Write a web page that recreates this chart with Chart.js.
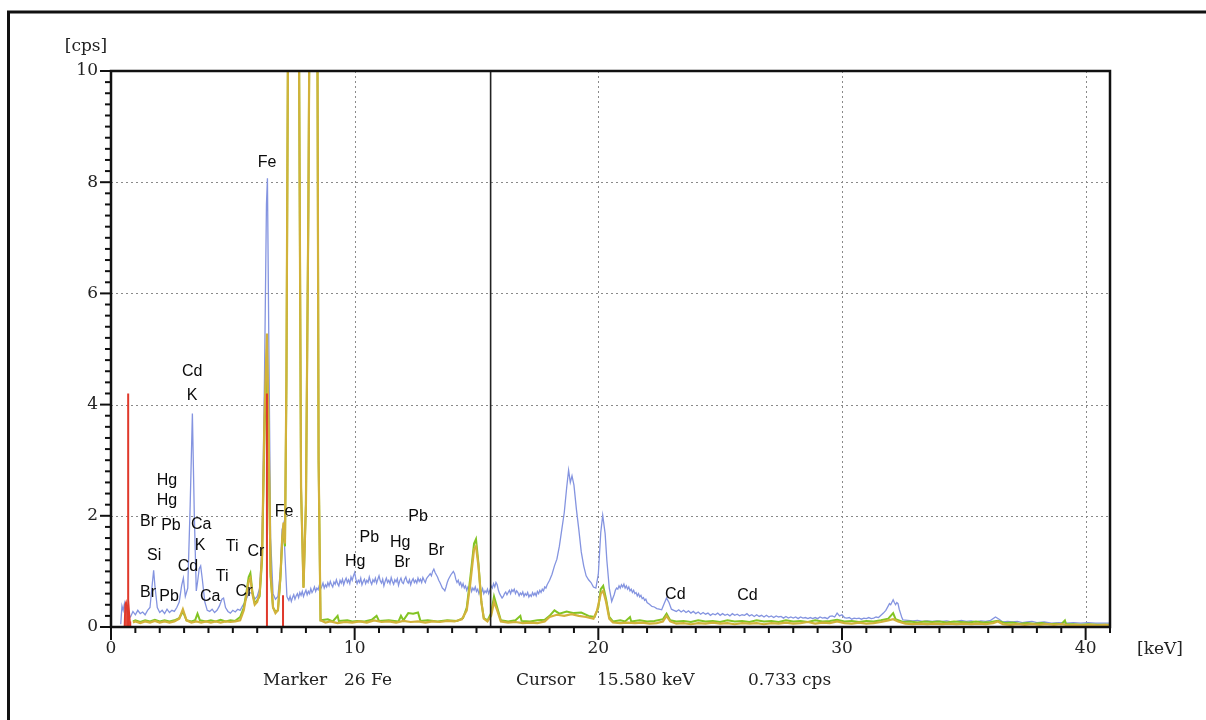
<!DOCTYPE html>
<html>
<head>
<meta charset="utf-8">
<script src="https://cdn.jsdelivr.net/npm/chart.js@4.4.1/dist/chart.umd.min.js"></script>
<style>
html,body{margin:0;padding:0;background:#fff;}
#wrap{width:1206px;height:720px;}
</style>
</head>
<body>
<div id="wrap"><canvas id="spec" width="1206" height="720"></canvas></div>
<script>
// axis ticks
var xTickValues=[0,10,20,30,40];
var yTickValues=[0,2,4,6,8,10];

// spectra, [keV, cps]
var blueSpectrum=[[0.40,0.05],[0.45,0.38],[0.5,0.30],[0.55,0.42],[0.6,0.25],[0.65,0.35],[0.7,0.22],[0.8,0.18],[0.9,0.28],[1.0,0.22],[1.1,0.30],[1.2,0.24],[1.3,0.27],[1.4,0.22],[1.5,0.30],[1.6,0.35],[1.7,0.80],[1.75,1.02],[1.8,0.75],[1.9,0.35],[2.0,0.26],[2.1,0.30],[2.2,0.24],[2.3,0.32],[2.4,0.26],[2.5,0.30],[2.6,0.28],[2.7,0.35],[2.8,0.45],[2.9,0.75],[2.97,0.88],[3.05,0.55],[3.15,0.7],[3.25,2.2],[3.34,3.84],[3.42,2.0],[3.5,0.65],[3.55,0.8],[3.62,1.05],[3.68,1.1],[3.75,0.85],[3.85,0.45],[3.95,0.3],[4.05,0.28],[4.15,0.32],[4.25,0.26],[4.35,0.3],[4.45,0.38],[4.55,0.5],[4.62,0.52],[4.7,0.35],[4.8,0.28],[4.9,0.25],[5.0,0.3],[5.1,0.27],[5.2,0.32],[5.3,0.3],[5.4,0.38],[5.5,0.45],[5.6,0.55],[5.7,0.62],[5.8,0.6],[5.9,0.5],[6.0,0.55],[6.1,0.7],[6.2,1.5],[6.3,4.5],[6.38,7.6],[6.42,8.07],[6.48,5.0],[6.55,1.6],[6.65,0.6],[6.75,0.5],[6.85,0.55],[6.95,1.0],[7.02,1.75],[7.08,1.85],[7.15,1.2],[7.22,0.55],
[7.25,0.52],[7.3,0.48],[7.35,0.55],[7.4,0.46],[7.45,0.53],[7.5,0.58],[7.55,0.5],[7.6,0.56],[7.65,0.6],[7.7,0.53],[7.75,0.62],[7.8,0.57],[7.85,0.64],[7.9,0.55],[7.95,0.61],[8.0,0.66],[8.05,0.58],[8.1,0.64],[8.15,0.6],[8.2,0.69],[8.25,0.62],[8.3,0.66],[8.35,0.72],[8.4,0.64],[8.45,0.7],[8.5,0.67],[8.55,0.75],[8.6,0.68],[8.65,0.73],[8.7,0.79],[8.75,0.7],[8.8,0.76],[8.85,0.72],[8.9,0.8],[8.95,0.74],[9.0,0.82],[9.05,0.76],[9.1,0.72],[9.15,0.81],[9.2,0.77],[9.25,0.85],[9.3,0.78],[9.35,0.74],[9.4,0.84],[9.45,0.79],[9.5,0.86],[9.55,0.76],[9.6,0.83],[9.65,0.88],[9.7,0.8],[9.75,0.85],[9.8,0.78],[9.85,0.9],[9.9,0.84],[9.95,0.92],[10.0,0.98],[10.05,0.86],[10.1,0.78],[10.15,0.84],[10.2,0.8],[10.25,0.88],[10.3,0.76],[10.35,0.82],[10.4,0.86],[10.45,0.78],[10.5,0.84],[10.55,0.8],[10.6,0.9],[10.65,0.82],[10.7,0.77],[10.75,0.85],[10.8,0.81],[10.85,0.88],[10.9,0.79],[10.95,0.86],[11.0,0.92],[11.05,0.83],[11.1,0.79],[11.15,0.86],[11.2,0.74],[11.25,0.82],[11.3,0.88],[11.35,0.8],[11.4,0.84],[11.45,0.78],[11.5,0.89],[11.55,0.82],[11.6,0.77],[11.65,0.85],[11.7,0.81],[11.75,0.87],[11.8,0.75],[11.85,0.83],[11.9,0.88],[11.95,0.8],[12.0,0.78],[12.05,0.86],[12.1,0.9],[12.15,0.82],[12.2,0.79],[12.25,0.85],[12.3,0.76],[12.35,0.83],[12.4,0.87],[12.45,0.8],[12.5,0.84],[12.55,0.79],[12.6,0.88],[12.65,0.82],[12.7,0.86],[12.75,0.8],[12.8,0.89],[12.85,0.84],[12.9,0.8],[12.95,0.87],[13.0,0.9],[13.05,0.93],[13.1,0.96],[13.15,0.92],[13.2,1.0],[13.25,1.04],[13.3,0.98],[13.35,0.94],[13.4,0.9],[13.45,0.84],[13.5,0.8],[13.55,0.75],[13.6,0.7],[13.65,0.68],[13.7,0.65],[13.75,0.72],[13.8,0.8],[13.85,0.86],[13.9,0.9],[13.95,0.94],[14.0,0.97],[14.05,1.0],[14.1,0.96],[14.15,0.86],[14.2,0.8],[14.25,0.84],[14.3,0.76],[14.35,0.8],[14.4,0.72],[14.45,0.78],[14.5,0.7],[14.55,0.74],[14.6,0.66],[14.65,0.72],[14.7,0.68],[14.75,0.74],[14.8,0.64],[14.85,0.7],[14.9,0.66],[14.95,0.72],[15.0,0.64],[15.05,0.68],[15.1,0.6],[15.15,0.66],[15.2,0.62],[15.25,0.69],[15.3,0.6],[15.35,0.65],[15.4,0.62],[15.45,0.68],[15.5,0.6],[15.55,0.66],[15.6,0.74],[15.65,0.7],[15.7,0.78],[15.75,0.72],[15.8,0.8],[15.85,0.76],[15.9,0.66],[15.95,0.6],[16.0,0.56],[16.05,0.52],[16.1,0.55],[16.15,0.6],[16.2,0.63],[16.25,0.58],[16.3,0.62],[16.35,0.66],[16.4,0.6],[16.45,0.67],[16.5,0.64],[16.55,0.68],[16.6,0.6],[16.65,0.65],[16.7,0.62],[16.75,0.56],[16.8,0.61],[16.85,0.58],[16.9,0.63],[16.95,0.55],[17.0,0.6],[17.05,0.57],[17.1,0.62],[17.15,0.54],[17.2,0.58],[17.25,0.55],[17.3,0.62],[17.35,0.57],[17.4,0.61],[17.45,0.56],[17.5,0.64],[17.55,0.6],[17.6,0.66],[17.65,0.62],[17.7,0.68],[17.75,0.65],[17.8,0.72],[17.85,0.7],[17.9,0.76],[17.95,0.8],
[18.0,0.84],[18.1,0.95],[18.2,1.1],[18.3,1.22],[18.4,1.45],[18.5,1.75],[18.6,2.05],[18.7,2.5],[18.78,2.82],[18.85,2.6],[18.92,2.72],[19.0,2.55],[19.1,2.12],[19.2,1.75],[19.3,1.35],[19.4,1.1],[19.5,0.92],[19.6,0.85],[19.7,0.8],[19.8,0.72],[19.9,0.7],[20.0,0.95],[20.1,1.7],[20.18,2.01],[20.28,1.68],[20.35,1.2],[20.45,0.7],
[20.55,0.46],[20.6,0.52],[20.65,0.58],[20.7,0.66],[20.75,0.7],[20.8,0.68],[20.85,0.74],[20.9,0.7],[20.95,0.76],[21.0,0.72],[21.05,0.77],[21.1,0.7],[21.15,0.74],[21.2,0.68],[21.25,0.72],[21.3,0.65],[21.35,0.68],[21.4,0.62],[21.45,0.66],[21.5,0.6],[21.55,0.62],[21.6,0.56],[21.65,0.6],[21.7,0.54],[21.75,0.57],[21.8,0.51],[21.85,0.53],[21.9,0.48],[21.95,0.5],[22.0,0.44],[22.1,0.41],[22.2,0.37],[22.3,0.36],[22.4,0.33],[22.5,0.32],[22.6,0.31],[22.7,0.42],[22.8,0.52],[22.9,0.44],[23.0,0.32],[23.1,0.3],[23.2,0.28],[23.3,0.31],[23.4,0.27],[23.5,0.3],[23.6,0.26],[23.7,0.29],[23.8,0.25],[23.9,0.28],[24.0,0.24],[24.1,0.27],[24.2,0.23],[24.3,0.26],[24.4,0.23],[24.5,0.25],[24.6,0.21],[24.7,0.24],[24.8,0.22],[24.9,0.25],[25.0,0.21],[25.1,0.24],[25.2,0.21],[25.3,0.23],[25.4,0.2],[25.5,0.24],[25.6,0.21],[25.7,0.23],[25.8,0.2],[25.9,0.22],[26.0,0.21],[26.1,0.24],[26.2,0.2],[26.3,0.22],[26.4,0.19],[26.5,0.22],[26.6,0.19],[26.7,0.21],[26.8,0.18],[26.9,0.21],[27.0,0.18],[27.1,0.2],[27.2,0.17],[27.3,0.2],[27.4,0.18],[27.5,0.19],[27.6,0.16],[27.7,0.19],[27.8,0.16],[27.9,0.18],[28.0,0.16],[28.1,0.18],[28.2,0.15],[28.3,0.18],[28.4,0.16],[28.5,0.17],[28.6,0.15],[28.7,0.17],[28.8,0.15],[28.9,0.17],[29.0,0.15],[29.1,0.18],[29.2,0.16],[29.3,0.17],[29.4,0.15],[29.5,0.19],[29.6,0.2],[29.7,0.18],[29.8,0.25],[29.9,0.2],[30.0,0.22],[30.1,0.17],[30.2,0.16],[30.3,0.17],[30.4,0.14],[30.5,0.16],[30.6,0.15],[30.7,0.16],[30.8,0.14],[30.9,0.16],[31.0,0.15],[31.1,0.17],[31.2,0.15],[31.3,0.16],[31.4,0.18],[31.5,0.17],[31.6,0.21],[31.7,0.25],[31.8,0.3],[31.9,0.38],[31.95,0.42],[32.0,0.4],[32.1,0.49],[32.15,0.44],[32.2,0.4],[32.25,0.44],[32.3,0.42],[32.35,0.32],[32.4,0.25],[32.45,0.18],[32.5,0.13],
[32.7,0.12],[32.9,0.11],[33.1,0.12],[33.3,0.1],[33.5,0.11],[33.7,0.1],[33.9,0.11],[34.1,0.1],[34.3,0.11],[34.5,0.09],[34.7,0.1],[34.9,0.12],[35.1,0.1],[35.3,0.11],[35.5,0.09],[35.7,0.11],[35.9,0.1],[36.1,0.12],[36.3,0.18],[36.45,0.14],[36.6,0.09],[36.8,0.1],[37.0,0.09],[37.2,0.1],[37.4,0.08],[37.6,0.09],[37.8,0.1],[38.0,0.08],[38.3,0.09],[38.6,0.07],[38.9,0.08],[39.2,0.07],[39.5,0.08],[39.8,0.07],[40.1,0.08],[40.4,0.07],[40.7,0.07],[41.0,0.07]];

var yellowSpectrum=[[0.9,0.08],[1.0,0.1],[1.2,0.07],[1.4,0.1],[1.6,0.08],[1.8,0.11],[2.0,0.08],[2.2,0.1],[2.4,0.08],[2.6,0.1],[2.8,0.15],[2.95,0.32],[3.1,0.12],[3.3,0.08],[3.5,0.1],[3.7,0.08],[3.9,0.1],[4.1,0.08],[4.3,0.1],[4.5,0.08],[4.7,0.1],[4.9,0.09],[5.1,0.1],[5.3,0.12],[5.45,0.3],[5.55,0.55],[5.65,0.82],[5.72,0.88],[5.8,0.6],[5.9,0.4],[6.0,0.45],[6.1,0.6],[6.2,1.3],[6.3,3.8],[6.4,5.28],[6.47,3.5],[6.55,1.0],[6.65,0.35],[6.75,0.25],[6.85,0.3],[6.95,0.9],[7.03,1.6],[7.08,1.88],[7.14,1.5],[7.2,4.5],[7.3,14],[7.5,60],[7.7,12],[7.8,2.5],[7.9,0.7],[8.0,2.2],[8.1,7.5],[8.16,12],[8.3,70],[8.45,14],[8.52,3],[8.6,0.12],[8.8,0.08],[9.0,0.1],[9.3,0.07],[9.6,0.09],[9.9,0.08],[10.2,0.1],[10.5,0.08],[10.8,0.12],[11.1,0.09],[11.4,0.1],[11.7,0.08],[12.0,0.11],[12.3,0.09],[12.6,0.1],[12.9,0.08],[13.2,0.1],[13.5,0.09],[13.8,0.11],[14.1,0.1],[14.4,0.14],[14.6,0.3],[14.75,0.8],[14.9,1.4],[14.98,1.45],[15.08,1.1],[15.2,0.45],[15.3,0.15],[15.45,0.1],[15.6,0.2],[15.72,0.45],[15.85,0.3],[16.0,0.1],[16.3,0.08],[16.6,0.09],[16.9,0.07],[17.2,0.08],[17.5,0.07],[17.8,0.1],[18.0,0.18],[18.3,0.22],[18.6,0.2],[18.9,0.23],[19.2,0.2],[19.5,0.18],[19.8,0.15],[19.95,0.3],[20.1,0.6],[20.2,0.65],[20.32,0.45],[20.45,0.15],[20.6,0.08],[20.9,0.07],[21.2,0.08],[21.5,0.07],[21.8,0.08],[22.1,0.06],[22.4,0.07],[22.65,0.1],[22.8,0.2],[22.95,0.1],[23.2,0.06],[23.5,0.07],[23.8,0.05],[24.1,0.07],[24.4,0.06],[24.7,0.08],[25.0,0.06],[25.3,0.07],[25.6,0.05],[25.9,0.07],[26.2,0.06],[26.5,0.07],[26.8,0.05],[27.1,0.07],[27.4,0.06],[27.7,0.08],[28.0,0.06],[28.3,0.07],[28.6,0.09],[28.9,0.06],[29.2,0.08],[29.5,0.07],[29.8,0.1],[30.1,0.07],[30.4,0.06],[30.7,0.08],[31.0,0.06],[31.3,0.07],[31.6,0.09],[31.9,0.12],[32.1,0.14],[32.3,0.1],[32.6,0.06],[32.9,0.05],[33.2,0.06],[33.5,0.05],[33.8,0.06],[34.1,0.05],[34.4,0.06],[34.7,0.05],[35.0,0.06],[35.3,0.05],[35.6,0.06],[35.9,0.05],[36.2,0.07],[36.4,0.1],[36.6,0.05],[36.9,0.04],[37.2,0.05],[37.5,0.04],[37.8,0.05],[38.1,0.04],[38.4,0.05],[38.7,0.04],[39.0,0.05],[39.3,0.03],[39.6,0.04],[39.9,0.03],[40.2,0.04],[40.5,0.03],[40.8,0.04],[41.0,0.03]];

var greenSpectrum=[[0.9,0.1],[1.0,0.12],[1.2,0.09],[1.4,0.12],[1.6,0.1],[1.8,0.13],[2.0,0.1],[2.2,0.12],[2.4,0.1],[2.6,0.12],[2.8,0.16],[2.95,0.28],[3.1,0.12],[3.3,0.1],[3.45,0.12],[3.55,0.24],[3.65,0.12],[3.9,0.1],[4.1,0.12],[4.3,0.1],[4.5,0.13],[4.7,0.1],[4.9,0.12],[5.1,0.11],[5.3,0.18],[5.45,0.35],[5.55,0.6],[5.65,0.9],[5.72,0.97],[5.8,0.65],[5.9,0.42],[6.0,0.48],[6.1,0.55],[6.2,1.2],[6.3,3.5],[6.4,5.0],[6.47,3.3],[6.55,0.9],[6.65,0.35],[6.75,0.28],[6.85,0.3],[6.95,0.85],[7.03,1.55],[7.08,1.8],[7.14,1.45],[7.2,4.4],[7.3,14],[7.5,58],[7.7,12],[7.8,2.5],[7.9,0.72],[8.0,2.2],[8.1,7.5],[8.16,12],[8.3,68],[8.45,14],[8.52,3],[8.6,0.12],[8.9,0.14],[9.1,0.1],[9.3,0.2],[9.35,0.11],[9.7,0.12],[9.9,0.1],[10.1,0.11],[10.4,0.1],[10.7,0.13],[10.9,0.2],[11.0,0.11],[11.4,0.12],[11.8,0.1],[11.9,0.2],[12.0,0.12],[12.2,0.25],[12.4,0.24],[12.6,0.26],[12.7,0.11],[13.0,0.12],[13.4,0.1],[13.8,0.12],[14.2,0.11],[14.45,0.16],[14.6,0.35],[14.75,0.9],[14.9,1.5],[14.98,1.58],[15.08,1.15],[15.2,0.45],[15.3,0.16],[15.45,0.12],[15.6,0.25],[15.72,0.55],[15.85,0.35],[16.0,0.12],[16.3,0.1],[16.6,0.12],[16.8,0.2],[16.85,0.11],[17.2,0.1],[17.5,0.12],[17.8,0.13],[18.0,0.2],[18.2,0.3],[18.4,0.24],[18.7,0.28],[19.0,0.25],[19.3,0.26],[19.6,0.2],[19.85,0.18],[20.0,0.35],[20.1,0.68],[20.2,0.74],[20.32,0.5],[20.45,0.18],[20.6,0.1],[20.9,0.12],[21.1,0.1],[21.3,0.18],[21.35,0.1],[21.7,0.12],[22.0,0.1],[22.3,0.11],[22.65,0.14],[22.8,0.24],[22.95,0.12],[23.2,0.1],[23.5,0.11],[23.8,0.09],[24.1,0.12],[24.4,0.1],[24.7,0.11],[25.0,0.09],[25.3,0.12],[25.6,0.1],[25.9,0.11],[26.2,0.09],[26.5,0.12],[26.8,0.1],[27.1,0.11],[27.4,0.09],[27.7,0.12],[28.0,0.1],[28.3,0.11],[28.6,0.09],[28.9,0.12],[29.2,0.1],[29.5,0.11],[29.8,0.13],[30.1,0.1],[30.4,0.11],[30.7,0.09],[31.0,0.11],[31.3,0.1],[31.6,0.12],[31.9,0.15],[32.1,0.25],[32.2,0.14],[32.5,0.09],[32.8,0.1],[33.1,0.08],[33.4,0.1],[33.7,0.09],[34.0,0.1],[34.3,0.08],[34.6,0.1],[34.9,0.09],[35.2,0.08],[35.5,0.1],[35.8,0.08],[36.1,0.09],[36.4,0.11],[36.7,0.07],[37.0,0.08],[37.3,0.06],[37.6,0.07],[37.9,0.06],[38.2,0.07],[38.5,0.05],[38.8,0.06],[39.0,0.05],[39.15,0.12],[39.2,0.05],[39.5,0.05],[39.8,0.04],[40.1,0.05],[40.5,0.04],[41.0,0.04]];

var redLowSpectrum=[[0.55,0],[0.58,0.4],[0.62,0.45],[0.68,0.3],[0.72,0.42],[0.78,0.1],[0.8,0]];

// Fe marker lines (L, Ka, Kb)
var markerKeV=[0.705,6.40,7.06];
var markerCps=[4.2,4.2,0.57];
var markerText='Marker  26 Fe';

var cursorKeV=15.58;
var cursorCps=0.733;

// element labels on the spectrum
var peakLabels=['Fe','Cd','K','Hg','Hg','Br','Pb','Ca','K','Si','Ti','Cr','Fe','Cd','Ti','Br','Pb','Ca','Cr','Hg','Pb','Hg','Br','Pb','Br','Cd','Cd'];
var peakLabelKeV=[6.41,3.33,3.33,2.30,2.30,1.52,2.46,3.70,3.66,1.77,4.97,5.95,7.10,3.16,4.56,1.52,2.38,4.07,5.46,10.02,10.60,11.87,11.95,12.60,13.35,23.16,26.12];
var peakLabelCps=[8.35,4.60,4.17,2.64,2.28,1.89,1.83,1.85,1.47,1.28,1.44,1.35,2.07,1.08,0.90,0.61,0.54,0.54,0.63,1.17,1.60,1.51,1.15,1.98,1.37,0.59,0.56];

function toXY(arr){
	var out=[];
	for(var i=0;i<arr.length;i++){ out.push({x:arr[i][0],y:arr[i][1]}); }
	return out;
}

var markerData=[];
for(var i=0;i<markerKeV.length;i++){
	markerData.push({x:markerKeV[i],y:0});
	markerData.push({x:markerKeV[i],y:markerCps[i]});
	markerData.push({x:markerKeV[i],y:null});
}

var serif='"DejaVu Serif", "Liberation Serif", serif';
var sans='"Liberation Sans", Arial, sans-serif';

function line(ctx,x1,y1,x2,y2){
	ctx.beginPath(); ctx.moveTo(x1,y1); ctx.lineTo(x2,y2); ctx.stroke();
}

var decor={
	id:'decor',
	beforeDatasetsDraw:function(chart){
		var ctx=chart.ctx, a=chart.chartArea, xs=chart.scales.x, ys=chart.scales.y;
		ctx.save();
		ctx.strokeStyle='#8a8a8a'; ctx.lineWidth=1; ctx.setLineDash([2,3]);
		for(var i=0;i<xTickValues.length;i++){
			if(xTickValues[i]==0) continue;
			var px=Math.round(xs.getPixelForValue(xTickValues[i]))+0.5;
			line(ctx,px,a.top,px,a.bottom);
		}
		for(var j=0;j<yTickValues.length;j++){
			if(yTickValues[j]==0||yTickValues[j]==10) continue;
			var py=Math.round(ys.getPixelForValue(yTickValues[j]))+0.5;
			line(ctx,a.left,py,a.right,py);
		}
		ctx.restore();
	},
	afterDatasetsDraw:function(chart){
		var ctx=chart.ctx, a=chart.chartArea, xs=chart.scales.x, ys=chart.scales.y;
		ctx.save();
		// cursor
		ctx.strokeStyle='#222'; ctx.lineWidth=1.6;
		var cx=xs.getPixelForValue(cursorKeV);
		line(ctx,cx,a.top,cx,a.bottom);
		// element labels
		ctx.fillStyle='#0a0a0a'; ctx.font='16px '+sans; ctx.textAlign='center'; ctx.textBaseline='middle';
		for(var i=0;i<peakLabels.length;i++){
			ctx.fillText(peakLabels[i],xs.getPixelForValue(peakLabelKeV[i]),ys.getPixelForValue(peakLabelCps[i]));
		}
		ctx.restore();
	},
	afterDraw:function(chart){
		var ctx=chart.ctx, a=chart.chartArea, xs=chart.scales.x, ys=chart.scales.y;
		ctx.save();
		ctx.strokeStyle='#111';
		// minor/major ticks
		ctx.lineWidth=2;
		for(var i=0;i<=50;i++){
			var py=ys.getPixelForValue(i*0.2);
			var len=(i%10==0)?11:6;
			line(ctx,a.left-len,py,a.left,py);
		}
		for(var k=0;k<=41;k++){
			var px=xs.getPixelForValue(k);
			var l2=(k%10==0)?13:6;
			line(ctx,px,a.bottom,px,a.bottom+l2);
		}
		// plot frame
		ctx.lineWidth=2.5;
		ctx.strokeRect(a.left,a.top,a.right-a.left,a.bottom-a.top);
		// outer frame
		ctx.lineWidth=3;
		ctx.beginPath();
		ctx.moveTo(8.5,720); ctx.lineTo(8.5,12); ctx.lineTo(1206,12);
		ctx.stroke();
		// units and status text
		ctx.fillStyle='#222'; ctx.font='17px '+serif; ctx.textBaseline='middle';
		ctx.textAlign='center';
		ctx.fillText('[cps]',86,47);
		ctx.fillText('[keV]',1160,650);
		ctx.textAlign='left';
		ctx.fillText('Marker',263,681);
		ctx.fillText(markerText.split(/\s+/).slice(1).join(' '),344,681);
		ctx.fillText('Cursor',516,681);
		ctx.fillText(cursorKeV.toFixed(3)+' keV',597,681);
		ctx.fillText(cursorCps.toFixed(3)+' cps',748,681);
		ctx.restore();
	}
};

var ctx=document.getElementById('spec').getContext('2d');
var myChart=new Chart(ctx,{
	type:'line',
	data:{
		datasets:[
			{label:'marker',data:markerData,borderColor:'#e0392b',borderWidth:2,spanGaps:false,order:0},
			{label:'marker low',data:toXY(redLowSpectrum),borderColor:'#e0392b',backgroundColor:'rgba(224,57,43,0.9)',borderWidth:1.5,fill:'origin',order:1},
			{label:'yellow',data:toXY(yellowSpectrum),borderColor:'#d2b23a',borderWidth:2.2,order:2},
			{label:'green',data:toXY(greenSpectrum),borderColor:'#82c423',borderWidth:2,order:3},
			{label:'blue',data:toXY(blueSpectrum),borderColor:'#8494e0',borderWidth:1.3,order:4}
		]
	},
	options:{
		responsive:false,
		animation:false,
		events:[],
		elements:{point:{radius:0},line:{tension:0,fill:false}},
		layout:{padding:{left:0,top:71,right:96,bottom:0}},
		plugins:{legend:{display:false},tooltip:{enabled:false},title:{display:false}},
		scales:{
			x:{
				type:'linear',min:0,max:41,
				grid:{display:false,drawTicks:false},
				border:{display:false},
				ticks:{autoSkip:false,maxRotation:0,padding:11,color:'#222',font:{family:serif,size:17}},
				afterBuildTicks:function(s){ s.ticks=xTickValues.map(function(v){return {value:v};}); },
				afterFit:function(s){ s.height=93; }
			},
			y:{
				type:'linear',min:0,max:10,
				grid:{display:false,drawTicks:false},
				border:{display:false},
				ticks:{autoSkip:false,padding:13,color:'#222',font:{family:serif,size:17}},
				afterBuildTicks:function(s){ s.ticks=yTickValues.map(function(v){return {value:v};}); },
				afterFit:function(s){ s.width=111; }
			}
		}
	},
	plugins:[decor]
});
</script>
</body>
</html>
